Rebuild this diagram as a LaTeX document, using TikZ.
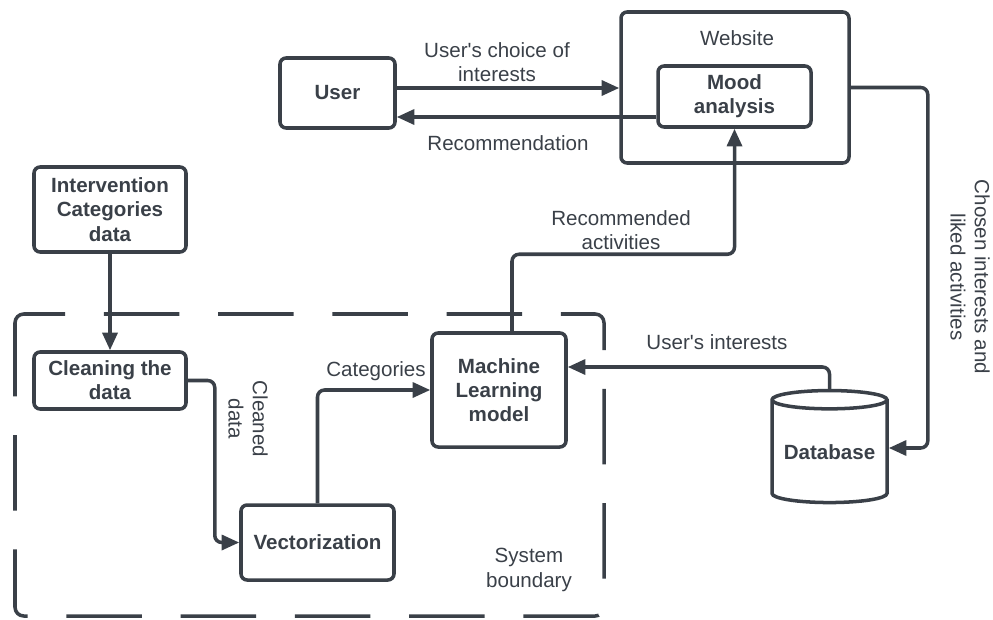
\documentclass[tikz,border=0pt]{standalone}
\usepackage{fontspec}
\setmainfont{Liberation Sans}
\usepackage{tikz}
\usetikzlibrary{arrows.meta,shapes.geometric,calc}
\definecolor{ink}{RGB}{58,64,72}

\begin{document}
\begin{tikzpicture}[>={Triangle[length=10pt,width=8.5pt]}, line width=2pt, color=ink,
     font=\fontsize{11.7}{13.8}\selectfont,
     box/.style={draw, rounded corners=3.5pt, align=center, inner sep=0pt,
       font=\fontsize{11.7}{13.8}\selectfont\bfseries},
     flow/.style={->, rounded corners=4pt},
     tag/.style={align=center}]
    \useasboundingbox (0,0) rectangle (19.86,-12.38);
    % system boundary, starting on the left side so a dash wraps the corner
    \draw[rounded corners=5pt, dash pattern=on 43pt off 22pt]
      (0.3,-7.04) -- (0.3,-6.28) -- (12.08,-6.28) -- (12.08,-12.32) -- (0.3,-12.32) -- cycle;
    % boxes
    \node[box, minimum width=2.3cm, minimum height=1.4cm] (user) at (6.75, -1.86) {User};
    \node[box, minimum width=4.56cm, minimum height=3.02cm] (website) at (14.7, -1.75) {};
    \node[tag] (webname) at (14.74, -0.76) {Website};
    \node[box, minimum width=3.06cm, minimum height=1.22cm] (mood) at (14.69, -1.93) {Mood\\analysis};
    \node[box, minimum width=3.04cm, minimum height=1.7cm] (interv) at (2.2, -4.19) {Intervention\\Categories\\data};
    \node[box, minimum width=3.04cm, minimum height=1.14cm] (clean) at (2.2, -7.61) {Cleaning the\\data};
    \node[box, minimum width=2.68cm, minimum height=2.28cm] (ml) at (9.98, -7.8) {Machine\\Learning\\model};
    \node[box, minimum width=3.06cm, minimum height=1.5cm] (vect) at (6.35, -10.85) {Vectorization};
    \node[draw, cylinder, shape border rotate=90, aspect=0.2, minimum width=2.3cm, minimum height=2.24cm,
      inner sep=0pt, font=\fontsize{11.7}{13.8}\selectfont\bfseries] (db) at (16.59, -9.04) {Database};
    % connectors
    \draw[flow] ([yshift=0.1cm]user.east) -- ([yshift=0.1cm]user.east -| website.west);
    \draw[flow] ([yshift=-0.48cm]user.east -| mood.west) -- ([yshift=-0.48cm]user.east);
    \draw[flow] (interv) -- (clean);
    \draw[flow] (clean.east) -- ++(0.54,0) |- (vect.west);
    \draw[flow] (vect.north) |- (ml.west);
    \draw[flow] ([xshift=0.26cm]ml.north) -- ++(0,1.54) -| (mood.south);
    \draw[flow] (db.north) |- ([yshift=0.46cm]ml.east);
    \draw[flow] (website.east) -- ++(1.54,0) |- ([yshift=0.08cm]db.east);
    % labels
    \node[tag] (choice) at (9.94, -1.24) {User\textquotesingle s choice of\\interests};
    \node[tag] (recom) at (10.16, -2.86) {Recommendation};
    \node[tag, rotate=-90] (cleaned) at (4.96, -8.38) {Cleaned\\data};
    \node[tag] (cats) at (7.52, -7.42) {Categories};
    \node[tag] (recact) at (12.42, -4.6) {Recommended\\activities};
    \node[tag] (interests) at (14.34, -6.84) {User\textquotesingle s interests};
    \node[tag, rotate=-90] (chosen) at (19.4, -5.54) {Chosen interests and\\liked activities};
    \node[tag] (sysbound) at (10.58, -11.4) {System\\boundary};
\end{tikzpicture}
\end{document}
